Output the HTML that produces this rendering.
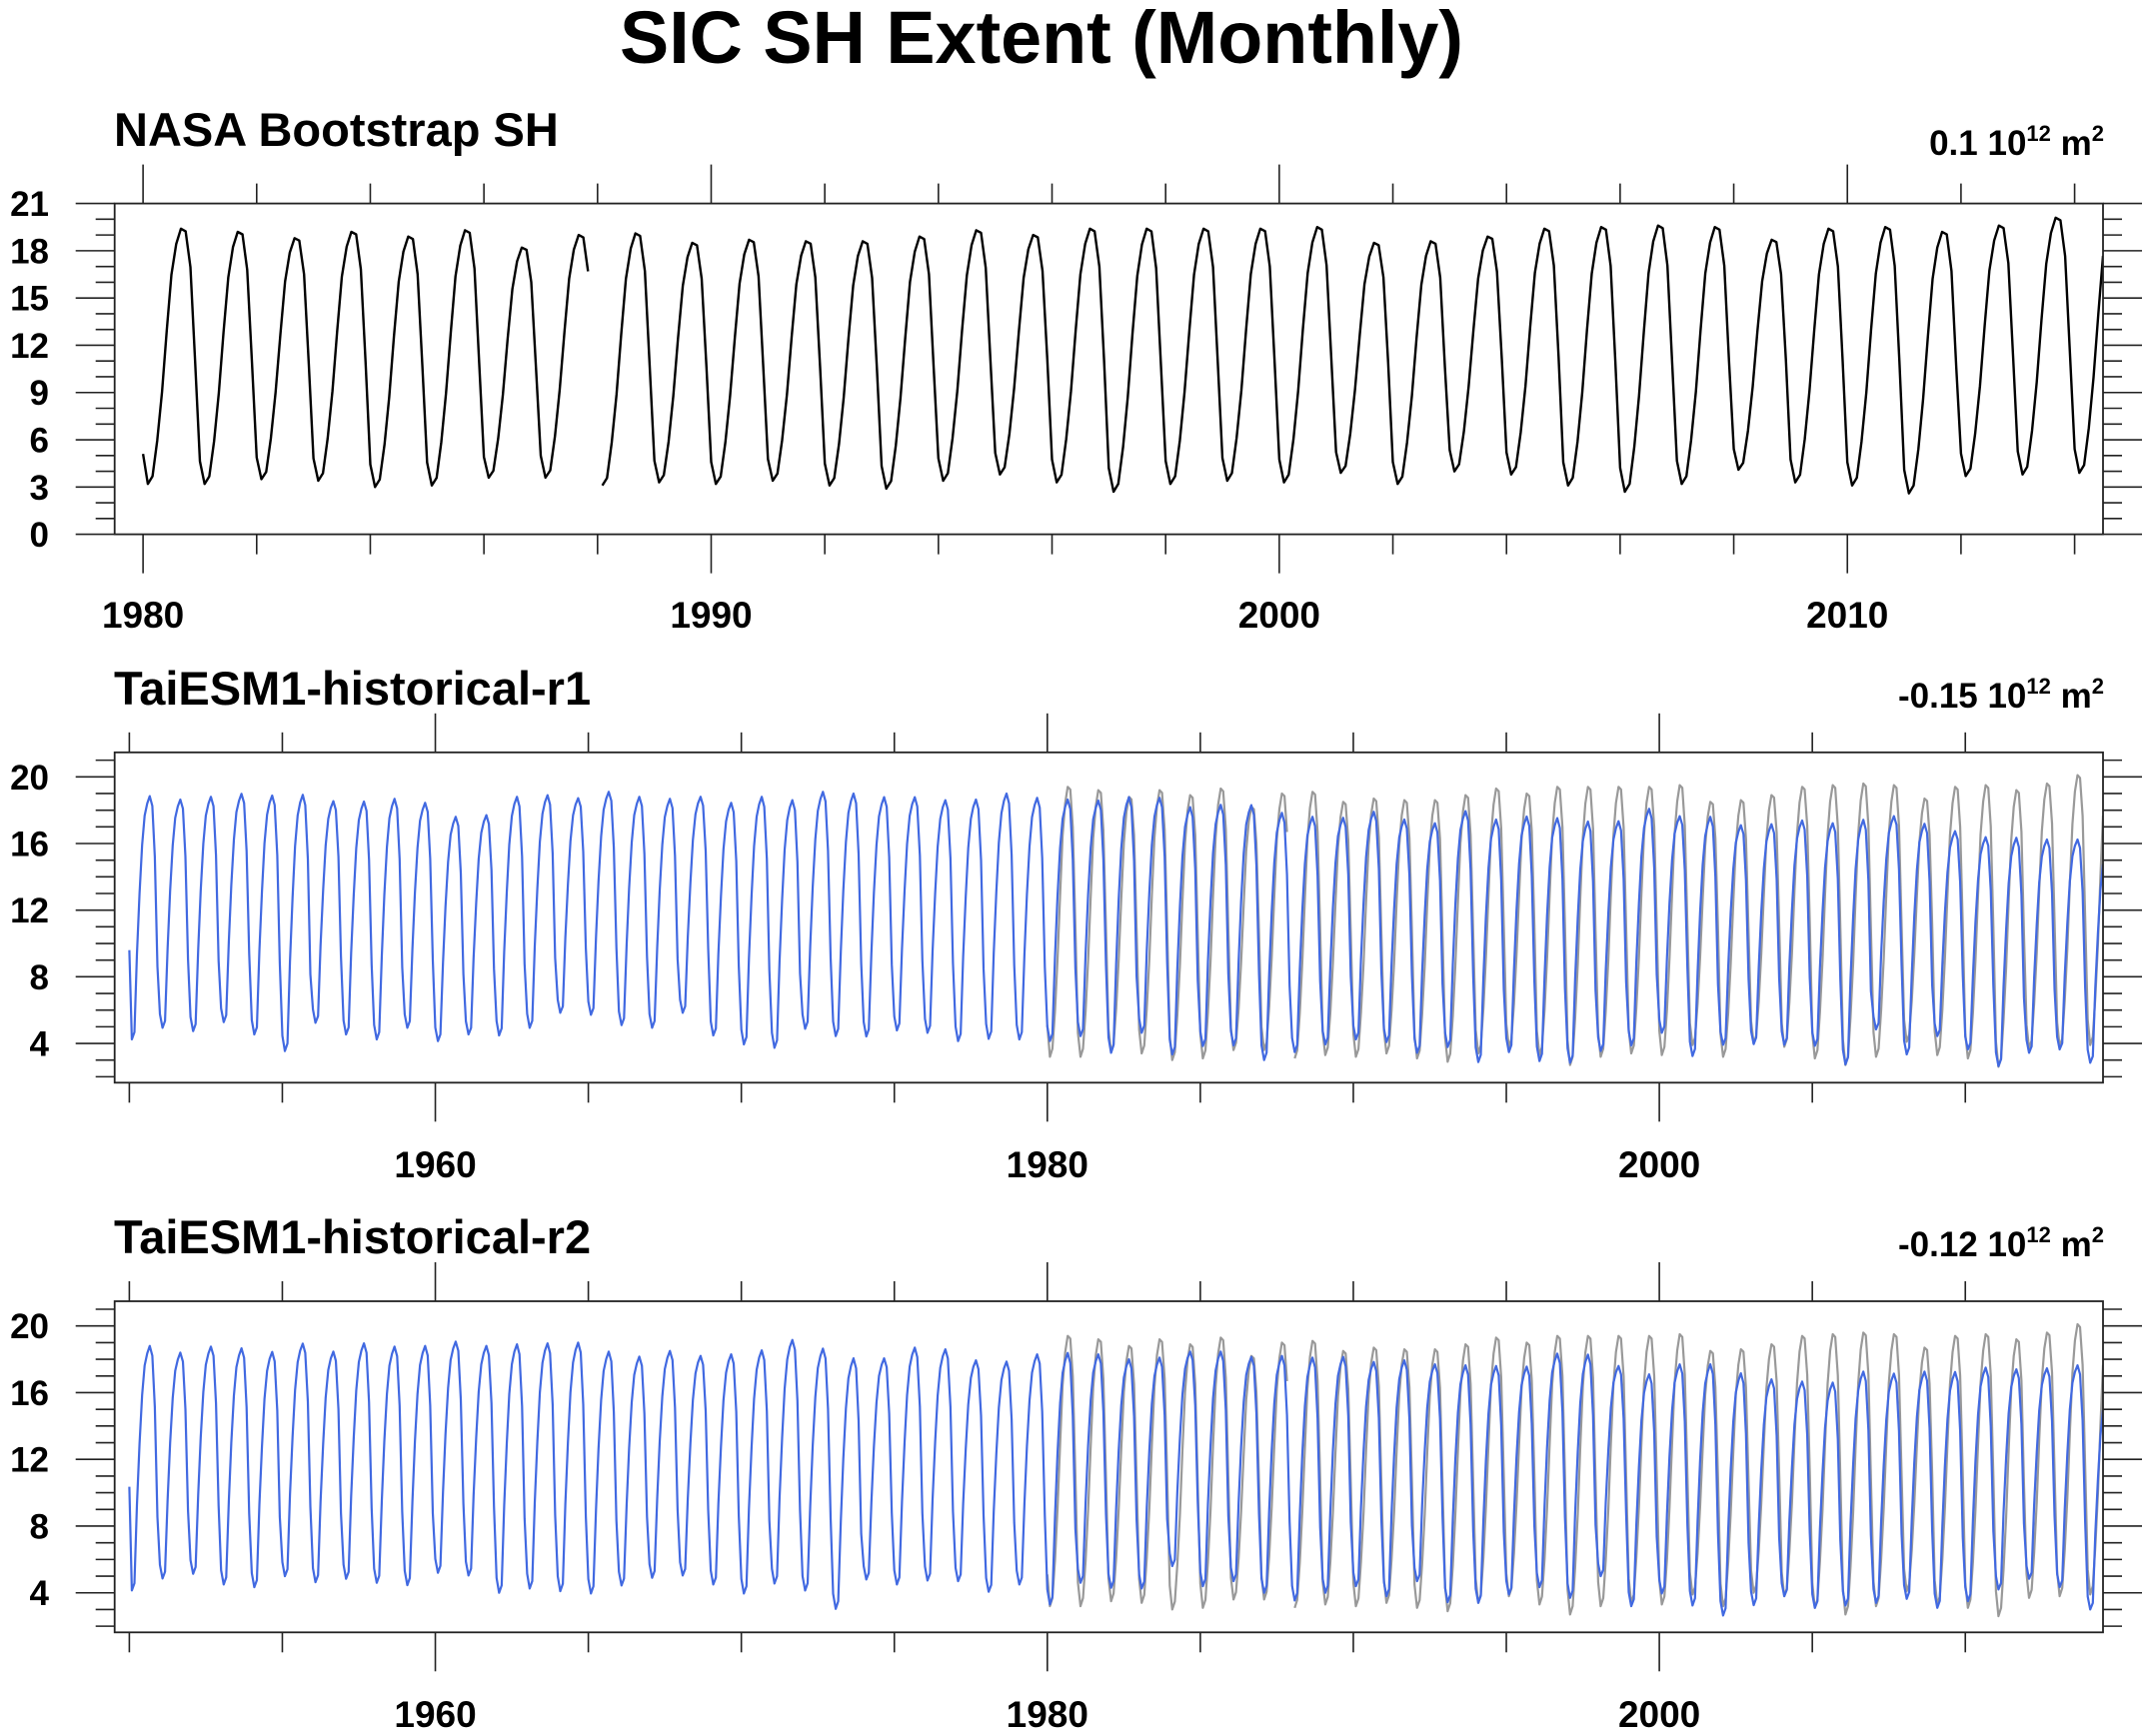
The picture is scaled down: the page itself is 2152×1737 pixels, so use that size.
<!DOCTYPE html>
<html><head><meta charset="utf-8"><style>
html,body{margin:0;padding:0;background:#fff;}
svg{display:block;font-family:"Liberation Sans",Arial,sans-serif;font-weight:bold;}
</style></head><body>
<svg id="chart" width="2152" height="1737" viewBox="0 0 2152 1737" xmlns="http://www.w3.org/2000/svg">
<rect width="2152" height="1737" fill="#fff"/>
<text x="1042" y="63" font-size="74" text-anchor="middle" textLength="844" lengthAdjust="spacingAndGlyphs">SIC SH Extent (Monthly)</text>
</svg>
<script>
// ---- data (units 0.1 10^12 m^2) ----
const obsStartYear = 1980;
const obsMax = [19.4,19.2,18.8,19.2,18.9,19.3,18.2,19.0,19.1,18.5,18.7,18.6,18.6,18.9,19.3,19.0,19.4,19.4,19.4,19.4,19.5,18.5,18.6,18.9,19.4,19.5,19.6,19.5,18.7,19.4,19.5,19.2,19.6,20.1,20.7];
const obsMin = [3.2,3.2,3.5,3.4,3.0,3.1,3.6,3.6,3.1,3.3,3.2,3.4,3.1,2.9,3.4,3.8,3.3,2.7,3.2,3.4,3.3,3.9,3.2,4.0,3.8,3.1,2.7,3.2,4.1,3.3,3.1,2.6,3.7,3.8,3.9];
const obsFirstJan = 5.1;
const obsMissing = ["1987-12","1988-01"];
const obsShape = [0.09,0,0.03,0.17,0.36,0.6,0.82,0.94,1,0.99,0.85,0.48];

const modelStartYear = 1950;
const r1Max = [18.84,18.64,18.8,18.98,18.88,18.92,18.54,18.52,18.68,18.44,17.6,17.7,18.8,18.9,18.72,19.1,18.8,18.68,18.8,18.44,18.8,18.6,19.1,19.0,18.78,18.78,18.6,18.64,19.0,18.74,
18.64,18.58,18.78,18.74,18.18,18.32,18.3,17.84,17.6,17.54,17.9,17.44,17.22,17.94,17.44,17.62,17.52,17.32,17.34,18.08,17.64,17.6,17.1,17.16,17.38,17.22,17.42,17.64,17.18,16.74,16.38,16.34,16.24,16.24,15.8];
const r1Min = [4.24,4.94,4.74,5.28,4.54,3.54,5.24,4.54,4.24,4.94,4.14,4.54,4.48,4.94,5.84,5.72,5.1,4.94,5.84,4.48,3.94,3.74,4.88,4.44,4.42,4.78,4.64,4.14,4.28,4.24,
4.14,4.44,3.44,4.64,3.34,3.84,3.88,3.0,3.48,3.94,4.24,4.08,3.44,3.78,2.88,3.48,2.94,2.84,3.54,3.88,4.64,3.24,3.92,3.96,3.92,3.86,2.74,4.84,3.34,4.44,3.64,2.64,3.44,3.64,2.84];
const r1FirstJan = 9.6;
const r2Max = [18.8,18.4,18.76,18.66,18.44,18.94,18.46,18.96,18.76,18.8,19.06,18.8,18.9,18.96,19.0,18.46,18.16,18.5,18.2,18.3,18.54,19.16,18.64,18.06,18.06,18.7,18.6,17.94,17.86,18.3,
18.38,18.3,18.0,18.1,18.46,18.46,18.14,18.2,18.1,18.14,17.84,17.94,17.7,17.64,17.6,17.56,18.34,18.28,17.6,17.1,17.7,17.7,17.16,16.8,16.66,16.6,17.26,17.14,17.26,17.24,17.5,17.4,17.46,17.64,16.0];
const r2Min = [4.14,4.86,5.14,4.5,4.34,5.0,4.64,4.84,4.6,4.46,5.2,5.04,4.0,4.26,4.1,3.96,4.44,4.9,5.04,4.5,3.96,4.56,4.14,3.04,4.8,4.5,4.74,4.7,4.06,4.5,
3.3,4.6,4.3,4.26,5.6,4.4,4.7,4.0,3.54,4.0,4.4,3.8,4.7,3.44,3.4,3.9,4.34,3.7,5.0,3.2,3.96,3.24,2.64,3.26,3.8,3.1,3.24,3.4,3.64,3.1,3.5,4.2,4.84,4.34,3.0];
const r2FirstJan = 10.36;
const modelShape = [0.06,0,0.03,0.35,0.6,0.8,0.92,0.97,1,0.96,0.75,0.3];

const panelTitles = ["NASA Bootstrap SH","TaiESM1-historical-r1","TaiESM1-historical-r2"];
const panelUnits = ["0.1","-0.15","-0.12"];
const obsYTicks = [0,3,6,9,12,15,18,21];
const modelYTicks = [4,8,12,16,20];
const obsXLabels = [1980,1990,2000,2010];
const modelXLabels = [1960,1980,2000];

const NS = "http://www.w3.org/2000/svg";
const svg = document.getElementById("chart");
function mk(tag, attrs, parent){
  const e = document.createElementNS(NS, tag);
  for (const k in attrs) e.setAttribute(k, attrs[k]);
  (parent||svg).appendChild(e);
  return e;
}
function series(startYear, mx, mn, shape, firstJan, missing, endT){
  const segs = []; let cur = [];
  for (let i=0;i<mx.length;i++){
    for (let m=0;m<12;m++){
      const y = startYear+i, t = y + m/12;
      if (t > endT + 1e-6) break;
      const key = y+"-"+String(m+1).padStart(2,"0");
      if (missing.indexOf(key) >= 0){ if (cur.length) segs.push(cur); cur=[]; continue; }
      let v = mn[i] + shape[m]*(mx[i]-mn[i]);
      if (i===0 && m===0) v = firstJan;
      cur.push([t,v]);
    }
  }
  if (cur.length) segs.push(cur);
  return segs;
}

function panel(p){
  const g = mk("g",{});
  
  
  const L=114.7,R=2104,T=p.top,B=p.bottom;
  const sx = t => L + (t-p.x0)/(p.x1-p.x0)*(R-L);
  const sy = v => B - (v-p.y0)/(p.y1-p.y0)*(B-T);
  // clip
  const cid = "clip"+p.idx;
  const cp = mk("clipPath",{id:cid},g);
  mk("rect",{x:L,y:T,width:R-L,height:B-T},cp);
  // title & units
  const tt = mk("text",{x:114,y:p.titleY,"font-size":47},g);
  
  
  tt.textContent = panelTitles[p.idx];
  const ut = mk("text",{x:2105,y:p.unitY,"font-size":35,"text-anchor":"end"},g);
  
  
  const s1 = mk("tspan",{},ut); s1.textContent = panelUnits[p.idx]+" 10";
  const s2 = mk("tspan",{"font-size":22,dy:-14},ut); s2.textContent = "12";
  const s3 = mk("tspan",{dy:14},ut); s3.textContent = " m";
  const s4 = mk("tspan",{"font-size":22,dy:-14},ut); s4.textContent = "2";
  // y ticks
  for (let v=Math.ceil(p.y0); v<=p.y1+1e-6; v++){
    const y = sy(v), major = p.yTicks.indexOf(v)>=0, len = major?39:19;
    const t1 = mk("line",{x1:L-len,x2:L,y1:y,y2:y,stroke:"#222","stroke-width":1.6},g);
    
    
    const t2 = mk("line",{x1:R,x2:R+len,y1:y,y2:y,stroke:"#222","stroke-width":1.6},g);
    
    
  }
  p.yTicks.forEach(v=>{
    const tx = mk("text",{x:49,y:sy(v)+12.5,"font-size":35,"text-anchor":"end"},g);
    
    
    tx.textContent = v;
  });
  // x ticks
  for (let yr=p.xMinorStart; yr<=p.x1; yr+=p.xMinorStep){
    const x = sx(yr), major = p.xLabels.indexOf(yr)>=0, len = major?39:20;
    const a = mk("line",{x1:x,x2:x,y1:T-len,y2:T,stroke:"#222","stroke-width":1.6},g);
    
    
    const b = mk("line",{x1:x,x2:x,y1:B,y2:B+len,stroke:"#222","stroke-width":1.6},g);
    
    
  }
  p.xLabels.forEach(yr=>{
    const tx = mk("text",{x:sx(yr),y:p.xLabelY,"font-size":37,"text-anchor":"middle"},g);
    
    
    tx.textContent = yr;
  });
  // series
  p.lines.forEach(ln=>{
    ln.segs.forEach(seg=>{
      const d = seg.map((q,i)=>(i?"L":"M")+sx(q[0]).toFixed(1)+","+sy(q[1]).toFixed(1)).join("");
      const path = mk("path",{d:d,fill:"none",stroke:ln.color,"stroke-width":ln.w,"stroke-linejoin":"round","clip-path":"url(#"+cid+")"},g);
      
      
    });
  });
  const fr = mk("rect",{x:L,y:T,width:R-L,height:B-T,fill:"none",stroke:"#222","stroke-width":1.8},g);
  
  
}

const END = 2014.5;
const obsSegs = series(obsStartYear, obsMax, obsMin, obsShape, obsFirstJan, obsMissing, END);
panel({idx:0, top:203.6, bottom:534.6, x0:1979.5, x1:END, y0:0, y1:21, yTicks:obsYTicks,
  xLabels:obsXLabels, xMinorStart:1980, xMinorStep:2, xLabelY:628, titleY:146, unitY:155,
  lines:[{segs:obsSegs,color:"#000",w:2.4,name:"obs-line"}]});
panel({idx:1, top:752.8, bottom:1083.3, x0:1949.52, x1:END, y0:1.645, y1:21.47, yTicks:modelYTicks,
  xLabels:modelXLabels, xMinorStart:1950, xMinorStep:5, xLabelY:1178, titleY:705, unitY:708,
  lines:[{segs:obsSegs,color:"#999",w:2.2,name:"obs-line-gray"},
         {segs:series(modelStartYear,r1Max,r1Min,modelShape,r1FirstJan,[],END),color:"#4169e1",w:2.2,name:"r1-line"}]});
panel({idx:2, top:1302, bottom:1633.3, x0:1949.52, x1:END, y0:1.63, y1:21.48, yTicks:modelYTicks,
  xLabels:modelXLabels, xMinorStart:1950, xMinorStep:5, xLabelY:1728, titleY:1254, unitY:1257,
  lines:[{segs:obsSegs,color:"#999",w:2.2,name:"obs-line-gray"},
         {segs:series(modelStartYear,r2Max,r2Min,modelShape,r2FirstJan,[],END),color:"#4169e1",w:2.2,name:"r2-line"}]});
</script>
</body></html>
